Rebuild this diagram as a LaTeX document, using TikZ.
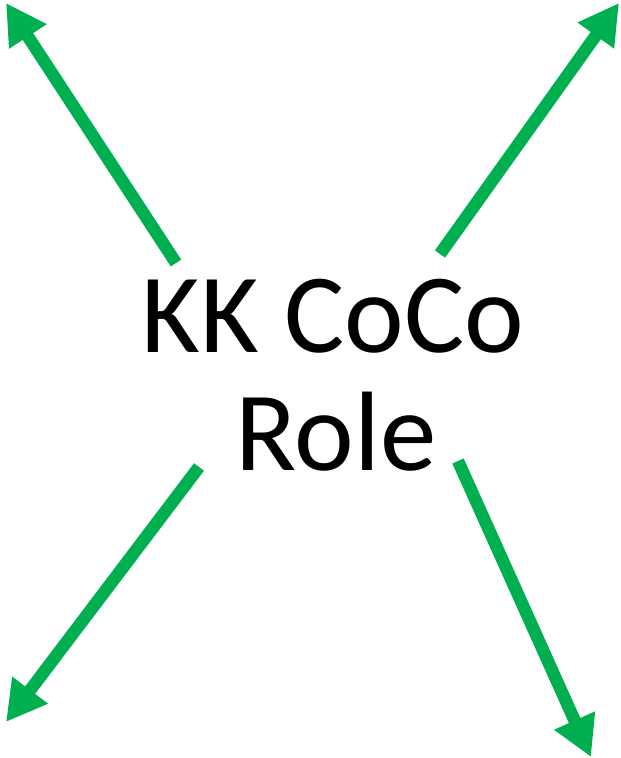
\documentclass[tikz,border=0pt]{standalone}
\usepackage{fontspec}
\setmainfont{Carlito}
\usetikzlibrary{arrows.meta}
\definecolor{arrowgreen}{HTML}{00B050}
\tikzset{
  greenarrow/.style={draw=arrowgreen, line width=12.5bp, -{Triangle[length=40bp,width=42bp]}},
  bigtext/.style={inner sep=0pt, anchor=base, font=\fontsize{113bp}{113bp}\selectfont}
}
\begin{document}
\begin{tikzpicture}[x=1bp,y=-1bp]
\useasboundingbox (0,0) rectangle (621,758);
\node[bigtext] (l1) at (333,352) {KK CoCo};
\node[bigtext] (l2) at (336,470) {Role};
\coordinate (ulS) at (176,263);
\coordinate (ulT) at (6,3);
\coordinate (urS) at (440,254);
\coordinate (urT) at (619,3);
\coordinate (llS) at (199,467);
\coordinate (llT) at (6,722);
\coordinate (lrS) at (458,461);
\coordinate (lrT) at (591,757);
\draw[greenarrow] (ulS) -- (ulT);
\draw[greenarrow] (urS) -- (urT);
\draw[greenarrow] (llS) -- (llT);
\draw[greenarrow] (lrS) -- (lrT);
\end{tikzpicture}
\end{document}
